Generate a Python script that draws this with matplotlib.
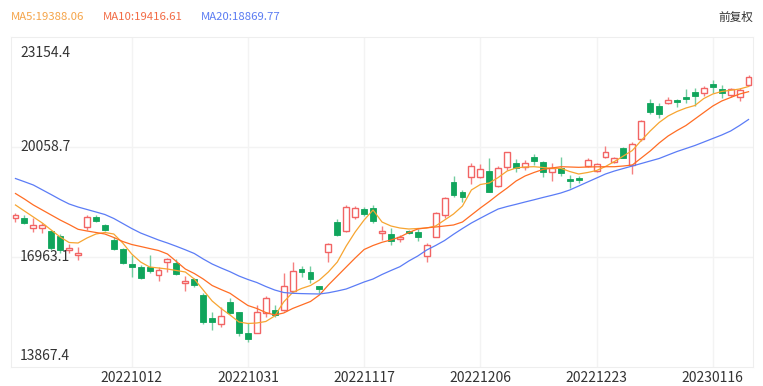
import matplotlib
matplotlib.use('Agg')
import matplotlib.pyplot as plt
import numpy as np

plt.rcParams['font.family'] = ['Noto Sans CJK SC', 'DejaVu Sans']

# trading days shown on the chart
dates = ['20220922', '20220923', '20220926', '20220927', '20220928', '20220929', '20220930',
         '20221003', '20221005', '20221006', '20221007', '20221010', '20221011', '20221012',
         '20221013', '20221014', '20221017', '20221018', '20221019', '20221020', '20221021',
         '20221024', '20221025', '20221026', '20221027', '20221028', '20221031',
         '20221101', '20221102', '20221103', '20221104', '20221107', '20221108', '20221109',
         '20221110', '20221111', '20221114', '20221115', '20221116', '20221117',
         '20221118', '20221121', '20221122', '20221123', '20221124', '20221125', '20221128',
         '20221129', '20221130', '20221201', '20221202', '20221205', '20221206',
         '20221207', '20221208', '20221209', '20221212', '20221213', '20221214', '20221215',
         '20221216', '20221219', '20221220', '20221221', '20221222', '20221223',
         '20221228', '20221229', '20221230', '20230103', '20230104', '20230105', '20230106',
         '20230109', '20230110', '20230111', '20230112', '20230113', '20230116',
         '20230117', '20230118', '20230119', '20230120']

opens = [18061, 18069, 17779, 17780, 17695, 17563, 17160, 17028, 17808, 18098,
         17864, 17441, 17188, 16766, 16691, 16682, 16456, 16823, 16794, 16232,
         16344, 15894, 15247, 15069, 15706, 15406, 14815, 14834, 15387, 15472,
         15482, 16006, 16625, 16541, 16137, 17096, 17948, 17695, 18089, 18314,
         18342, 17638, 17610, 17460, 17695, 17675, 16991, 17534, 18145, 19065,
         18801, 19206, 19206, 19383, 18961, 19487, 19600, 19487, 19786, 19628,
         19347, 19459, 19158, 19195, 19516, 19383, 19777, 19628, 20022, 19552,
         20284, 21305, 21212, 21288, 21373, 21474, 21606, 21570, 21832, 21691,
         21514, 21457, 21803]
highs = [18201, 18145, 18061, 17920, 17723, 17610, 17329, 17245, 18145, 18145,
         17892, 17526, 17216, 17019, 16738, 17019, 16682, 16935, 16907, 16428,
         16372, 15950, 15415, 15565, 15819, 15424, 15106, 15612, 15866, 15612,
         16504, 16813, 16710, 16710, 16137, 17367, 18032, 18427, 18398, 18370,
         18427, 17836, 17779, 17582, 17723, 17751, 17357, 18229, 18660, 19243,
         18849, 19600, 19572, 19741, 19524, 19926, 19713, 19693, 19862, 19665,
         19600, 19769, 19271, 19251, 19741, 19617, 20087, 19786, 20067, 20208,
         20819, 21401, 21288, 21457, 21401, 21682, 21710, 21775, 21944, 21803,
         21719, 21719, 22085]
lows = [17948, 17892, 17666, 17638, 17160, 17076, 17076, 16879, 17723, 17948,
        17695, 17160, 16760, 16409, 16344, 16513, 16288, 16541, 16456, 16006,
        16119, 15078, 14909, 15003, 15359, 14748, 14580, 14826, 15275, 15283,
        15453, 15987, 16414, 16222, 15946, 16813, 17554, 17666, 18032, 18117,
        17920, 17442, 17301, 17385, 17610, 17413, 16822, 17520, 18052, 18660,
        18519, 19017, 19178, 18784, 18941, 19411, 19364, 19411, 19552, 19223,
        19110, 19243, 18896, 19037, 19496, 19355, 19749, 19600, 19741, 19290,
        20228, 20987, 20866, 21260, 21193, 21288, 21221, 21494, 21570, 21429,
        21474, 21353, 21775]
closes = [18145, 17928, 17864, 17850, 17216, 17160, 17225, 17085, 18089, 17985,
          17723, 17188, 16802, 16691, 16372, 16569, 16597, 16907, 16485, 16288,
          16175, 15142, 15143, 15311, 15396, 14815, 14655, 15425, 15818, 15322,
          16147, 16578, 16531, 16335, 16063, 17329, 17582, 18370, 18342, 18173,
          17976, 17695, 17422, 17534, 17638, 17534, 17301, 18193, 18615, 18708,
          18660, 19524, 19431, 18801, 19459, 19909, 19459, 19617, 19665, 19364,
          19459, 19336, 19102, 19130, 19693, 19580, 19904, 19741, 19757, 20135,
          20790, 21035, 20979, 21381, 21317, 21418, 21502, 21727, 21739, 21570,
          21682, 21663, 22037]

ma5 = [18427, 18258, 18089, 17920, 17723, 17526, 17371, 17357, 17498, 17610,
       17653, 17610, 17357, 17048, 16822, 16682, 16654, 16625, 16583, 16541,
       16344, 16034, 15725, 15514, 15331, 15134, 15092, 15106, 15148, 15303,
       15697, 15964, 16077, 16161, 16316, 16541, 16822, 17273, 17667, 18004,
       18286, 17948, 17836, 17779, 17751, 17765, 17779, 17836, 18004, 18173,
       18398, 18849, 19003, 19046, 19200, 19383, 19468, 19496, 19504, 19482,
       19459, 19459, 19369, 19299, 19341, 19397, 19510, 19651, 19805, 19960,
       20242, 20509, 20748, 20931, 21058, 21156, 21227, 21424, 21550, 21621,
       21654, 21691, 21761]
ma10 = [18750, 18595, 18427, 18286, 18145, 18004, 17878, 17743, 17695, 17653,
        17610, 17512, 17399, 17315, 17259, 17202, 17146, 17048, 16836, 16625,
        16499, 16344, 16161, 16048, 15942, 15767, 15598, 15514, 15401, 15331,
        15387, 15514, 15612, 15711, 15894, 16175, 16428, 16682, 16935, 17174,
        17287, 17377, 17442, 17526, 17653, 17751, 17785, 17807, 17836, 17864,
        17948, 18145, 18342, 18525, 18722, 18905, 19102, 19243, 19341, 19426,
        19468, 19504, 19496, 19487, 19496, 19501, 19504, 19504, 19524, 19552,
        19749, 19946, 20171, 20368, 20523, 20664, 20847, 21030, 21212, 21353,
        21452, 21550, 21615]
ma20 = [19172, 19082, 18989, 18854, 18719, 18581, 18455, 18370, 18300, 18230,
        18159, 18047, 17906, 17765, 17638, 17540, 17442, 17357, 17264, 17166,
        17062, 16907, 16766, 16654, 16549, 16428, 16330, 16245, 16133, 16034,
        15964, 15942, 15933, 15927, 15922, 15956, 16006, 16063, 16161, 16260,
        16344, 16471, 16583, 16690, 16851, 16991, 17160, 17287, 17427, 17602,
        17765, 17920, 18055, 18187, 18314, 18384, 18446, 18511, 18573, 18638,
        18699, 18764, 18849, 18961, 19074, 19186, 19299, 19383, 19454, 19524,
        19594, 19665, 19735, 19834, 19932, 20016, 20101, 20199, 20298, 20396,
        20509, 20664, 20833]

tick_dates = ['20221012', '20221031', '20221117', '20221206', '20221223', '20230116']
y_ticks = [13867.4, 16963.1, 20058.7, 23154.4]
legend_labels = ['MA5:19388.06', 'MA10:19416.61', 'MA20:18869.77']
line_colors = ['#f7a531', '#ff6d24', '#5b7cf6']
legend_colors = ['#f5a449', '#f26b45', '#5b7cf2']

W, H = 763, 386
fig = plt.figure(figsize=(W / 100, H / 100), dpi=100)
ax = fig.add_axes([11 / W, 19 / H, 742 / W, 330 / H])

x = np.arange(len(dates))
o = np.array(opens)
c = np.array(closes)
up = c >= o

ax.set_xlim(-0.5, len(dates) - 0.5)
ax.set_ylim(y_ticks[0], y_ticks[-1])

# grid
tick_idx = [dates.index(d) for d in tick_dates]
for i in tick_idx:
    ax.axvline(i, color='#f3f3f3', lw=1, zorder=0)
for v in y_ticks[1:-1]:
    ax.axhline(v, color='#f3f3f3', lw=1, zorder=0)
for s in ax.spines.values():
    s.set_color('#eeeeee')

# candles
body_w = 0.66
min_h = 25
wick_col = np.where(up, '#f58080', '#72cca0')
ax.vlines(x, lows, highs, colors=wick_col, lw=1, zorder=2)
bottoms = np.minimum(o, c)
heights = np.maximum(np.abs(c - o), min_h)
ax.bar(x[up], heights[up], body_w, bottom=bottoms[up], facecolor='white',
       edgecolor='#f26464', lw=1, zorder=3)
ax.bar(x[~up], heights[~up], body_w, bottom=bottoms[~up], facecolor='#10a55c',
       edgecolor='#10a55c', lw=0.6, zorder=3)

# moving averages
for ma, col in zip([ma5, ma10, ma20], line_colors):
    ax.plot(x, ma, color=col, lw=0.9, zorder=4)

ax.set_xticks(tick_idx)
ax.set_xticklabels(tick_dates, fontsize=10, color='#333333')
ax.tick_params(axis='x', length=0, pad=3)
ax.set_yticks([])

# y labels inside the plot
offsets = [11, 0, 0, -16]
for v, off in zip(y_ticks, offsets):
    ax.annotate(f'{v:.1f}', xy=(0, v), xycoords=('axes fraction', 'data'),
                xytext=(9, off), textcoords='offset pixels', va='center',
                ha='left', fontsize=10, color='#333333')

# header
xs = [11, 103, 201]
for t, col, px in zip(legend_labels, legend_colors, xs):
    fig.text(px / W, 1 - 17 / H, t, color=col, fontsize=8.2, va='center', ha='left')
fig.text(753 / W, 1 - 17 / H, '前复权', color='#333333', fontsize=8.4, va='center', ha='right')

fig.savefig('out.png', dpi=100)
